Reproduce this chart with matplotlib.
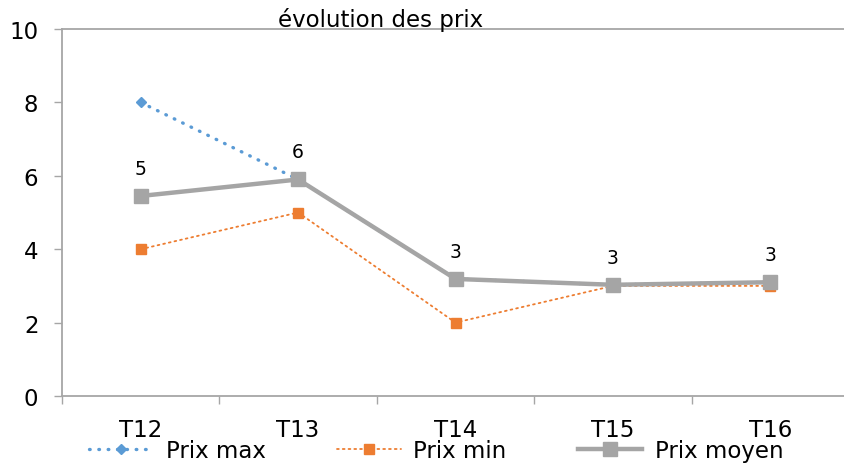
import matplotlib
matplotlib.use('Agg')
import matplotlib.pyplot as plt
import numpy as np

plt.rcParams['font.family'] = ['DejaVu Sans']

categories = ['T12', 'T13', 'T14', 'T15', 'T16']
prix_max = [8.0, 5.9, 3.19, 3.03, 3.1]
prix_min = [4.0, 5.0, 2.0, 3.0, 3.0]
prix_moyen = [5.45, 5.9, 3.19, 3.03, 3.1]

BLUE = '#5B9BD5'
ORANGE = '#ED7D31'
GRAY = '#A5A5A5'
AXIS = '#A6A6A6'


def main():
    f = plt.figure(figsize=(8.44, 4.64), dpi=100)
    ax = f.add_axes([62 / 844, 1 - 397 / 464, 787 / 844, 367 / 464])

    x = np.arange(len(categories))

    ax.plot(x, prix_min, color=ORANGE, lw=1.3, linestyle=(0, (1, 2.2)),
            dash_capstyle='round', marker='s', ms=6.5, label='Prix min', zorder=2)
    ax.plot(x, prix_max, color=BLUE, lw=2.4, linestyle=(0, (0.2, 2.6)),
            dash_capstyle='round', marker='D', ms=5, label='Prix max', zorder=3)
    ax.plot(x, prix_moyen, color=GRAY, lw=3.2, marker='s', ms=9.5,
            label='Prix moyen', zorder=4)

    # etiquettes arrondies au-dessus du prix moyen
    for xi, v in zip(x, prix_moyen):
        ax.annotate('{:.0f}'.format(v), (xi, v), xytext=(0, 13), textcoords='offset points',
                    ha='center', va='bottom', fontsize=13.5)

    ax.set_xlim(-0.5, 4.5)
    ax.set_ylim(0, 10)
    ax.set_yticks(np.arange(0, 11, 2))
    ax.set_xticks(np.arange(-0.5, 5, 1))
    ax.set_xticklabels([])
    ax.set_xticks(x, minor=True)
    ax.set_xticklabels(categories, minor=True)
    ax.tick_params(axis='x', which='major', length=6, color=AXIS, width=1)
    ax.tick_params(axis='x', which='minor', length=0, pad=16, labelsize=16.5)
    ax.tick_params(axis='y', length=6, color=AXIS, width=1, pad=11, labelsize=16.5)

    for s in ax.spines.values():
        s.set_color(AXIS)
        s.set_linewidth(1.3)

    f.text(381 / 844, 1 - 27 / 464, 'évolution des prix', ha='center', va='baseline', fontsize=16.5)

    h, l = ax.get_legend_handles_labels()
    order = [1, 0, 2]
    f.legend([h[i] for i in order], [l[i] for i in order], loc='center left',
             bbox_to_anchor=(89 / 844, 1 - 452 / 464), ncol=3, frameon=False,
             fontsize=16.5, handlelength=2.8, handletextpad=0.55, columnspacing=3.1,
             borderpad=0, borderaxespad=0)

    f.savefig('out.png', dpi=100)


if __name__ == '__main__':
    main()
